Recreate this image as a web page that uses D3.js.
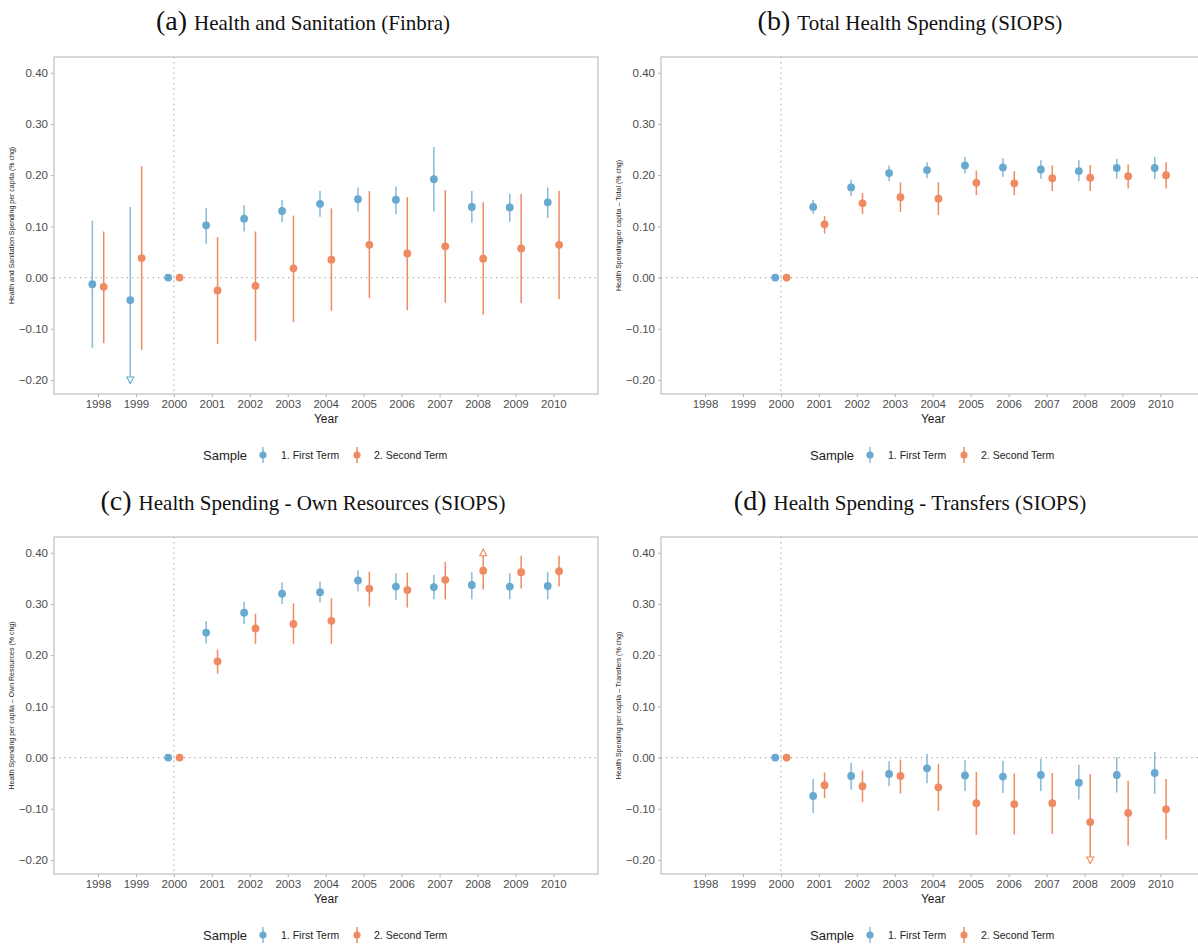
<!DOCTYPE html>
<html>
<head>
<meta charset="utf-8">
<script src="https://cdn.jsdelivr.net/npm/d3@7"></script>
<style>
  body { margin: 0; background: #fff; }
  svg text { font-family: "Liberation Sans", Arial, sans-serif; }
</style>
</head>
<body>
<div id="chart"></div>
<script>
// years and estimates (null = not estimated)
const years = [1998, 1999, 2000, 2001, 2002, 2003, 2004, 2005, 2006, 2007, 2008, 2009, 2010];
const yTicks = [-0.2, -0.1, 0, 0.1, 0.2, 0.3, 0.4];
const clipLo = -0.2, clipHi = 0.4;   // CIs beyond these get an arrow

// (a) Health and Sanitation (Finbra)
const aFirst   = [-0.013, -0.044, 0, 0.102, 0.115, 0.130, 0.144, 0.153, 0.152, 0.192, 0.138, 0.137, 0.147];
const aFirstLo = [-0.137, -0.260, null, 0.066, 0.090, 0.108, 0.119, 0.129, 0.124, 0.129, 0.107, 0.109, 0.116];
const aFirstHi = [0.111, 0.138, null, 0.136, 0.141, 0.152, 0.169, 0.176, 0.178, 0.255, 0.169, 0.163, 0.176];
const aSecond   = [-0.018, 0.038, 0, -0.025, -0.016, 0.018, 0.035, 0.064, 0.047, 0.061, 0.037, 0.057, 0.064];
const aSecondLo = [-0.128, -0.141, null, -0.130, -0.124, -0.087, -0.065, -0.040, -0.064, -0.049, -0.072, -0.050, -0.042];
const aSecondHi = [0.090, 0.217, null, 0.079, 0.090, 0.121, 0.135, 0.169, 0.157, 0.171, 0.147, 0.163, 0.169];

// (b) Total Health Spending (SIOPS)
const bFirst   = [null, null, 0, 0.138, 0.176, 0.204, 0.210, 0.219, 0.215, 0.211, 0.208, 0.214, 0.214];
const bFirstLo = [null, null, null, 0.124, 0.160, 0.188, 0.194, 0.203, 0.197, 0.193, 0.188, 0.193, 0.192];
const bFirstHi = [null, null, null, 0.152, 0.191, 0.219, 0.225, 0.236, 0.233, 0.229, 0.229, 0.232, 0.236];
const bSecond   = [null, null, 0, 0.104, 0.145, 0.157, 0.154, 0.185, 0.184, 0.194, 0.195, 0.198, 0.200];
const bSecondLo = [null, null, null, 0.086, 0.124, 0.128, 0.122, 0.161, 0.161, 0.169, 0.169, 0.174, 0.174];
const bSecondHi = [null, null, null, 0.120, 0.165, 0.186, 0.186, 0.209, 0.208, 0.219, 0.220, 0.221, 0.225];

// (c) Health Spending - Own Resources (SIOPS)
const cFirst   = [null, null, 0, 0.244, 0.283, 0.320, 0.323, 0.346, 0.334, 0.333, 0.337, 0.334, 0.335];
const cFirstLo = [null, null, null, 0.223, 0.261, 0.300, 0.303, 0.325, 0.308, 0.309, 0.309, 0.309, 0.309];
const cFirstHi = [null, null, null, 0.266, 0.304, 0.342, 0.344, 0.366, 0.360, 0.357, 0.362, 0.360, 0.362];
const cSecond   = [null, null, 0, 0.188, 0.252, 0.261, 0.267, 0.330, 0.327, 0.347, 0.365, 0.362, 0.364];
const cSecondLo = [null, null, null, 0.164, 0.222, 0.222, 0.222, 0.295, 0.293, 0.309, 0.328, 0.330, 0.334];
const cSecondHi = [null, null, null, 0.211, 0.281, 0.301, 0.311, 0.363, 0.361, 0.382, 0.440, 0.394, 0.394];

// (d) Health Spending - Transfers (SIOPS)
const dFirst   = [null, null, 0, -0.075, -0.036, -0.032, -0.021, -0.035, -0.037, -0.034, -0.049, -0.034, -0.030];
const dFirstLo = [null, null, null, -0.108, -0.063, -0.056, -0.050, -0.065, -0.069, -0.065, -0.082, -0.068, -0.071];
const dFirstHi = [null, null, null, -0.042, -0.010, -0.007, 0.007, -0.005, -0.006, -0.003, -0.014, 0.001, 0.011];
const dSecond   = [null, null, 0, -0.054, -0.056, -0.036, -0.058, -0.089, -0.091, -0.089, -0.126, -0.108, -0.101];
const dSecondLo = [null, null, null, -0.079, -0.087, -0.070, -0.104, -0.151, -0.150, -0.149, -0.230, -0.172, -0.160];
const dSecondHi = [null, null, null, -0.029, -0.025, -0.004, -0.012, -0.028, -0.031, -0.030, -0.032, -0.045, -0.042];

const seriesNames = ["1. First Term", "2. Second Term"];
const colors = ["#67a9cf", "#ef8a62"];

const panels = [
  {letter: "(a)", title: "Health and Sanitation (Finbra)",
   ylab: "Health and Sanitation Spending per capita (% chg)",
   series: [[aFirst, aFirstLo, aFirstHi], [aSecond, aSecondLo, aSecondHi]]},
  {letter: "(b)", title: "Total Health Spending (SIOPS)",
   ylab: "Health Spendingper capita – Total (% chg)",
   series: [[bFirst, bFirstLo, bFirstHi], [bSecond, bSecondLo, bSecondHi]]},
  {letter: "(c)", title: "Health Spending - Own Resources (SIOPS)",
   ylab: "Health Spending per capita – Own Resources (% chg)",
   series: [[cFirst, cFirstLo, cFirstHi], [cSecond, cSecondLo, cSecondHi]]},
  {letter: "(d)", title: "Health Spending - Transfers (SIOPS)",
   ylab: "Health Spending per capita – Transfers (% chg)",
   series: [[dFirst, dFirstLo, dFirstHi], [dSecond, dSecondLo, dSecondHi]]}
];

const W = 1198, H = 944,
      cellW = 607, cellH = 480,
      plotL = 54, plotT = 57, plotW = 544, plotH = 337,
      dodge = 0.15;

const svg = d3.select("#chart").append("svg")
    .attr("width", W).attr("height", H);

const x = d3.scaleLinear().domain([1996.84, 2011.175]).range([0, plotW]);
const y = d3.scaleLinear().domain([-0.2273, 0.4307]).range([plotH, 0]);
const fmt = d3.format(".2f");

panels.forEach((p, i) => {
  const cell = svg.append("g")
      .attr("transform", `translate(${(i % 2) * cellW},${Math.floor(i / 2) * cellH})`);

  // title
  const t = cell.append("text")
      .attr("x", 303).attr("y", 30)
      .attr("text-anchor", "middle")
      .style("font-family", "'Liberation Serif', 'Times New Roman', serif")
      .style("fill", "#111");
  t.append("tspan").style("font-size", "28px").text(p.letter + " ");
  t.append("tspan").style("font-size", "21px").text(p.title);

  const g = cell.append("g").attr("transform", `translate(${plotL},${plotT})`);

  // reference lines
  g.append("line")
      .attr("x1", 0).attr("x2", plotW).attr("y1", y(0)).attr("y2", y(0))
      .attr("stroke", "#a6a6a6").attr("stroke-width", 1.2).attr("stroke-dasharray", "1.2,4");
  g.append("line")
      .attr("x1", x(2000)).attr("x2", x(2000)).attr("y1", 0).attr("y2", plotH)
      .attr("stroke", "#a6a6a6").attr("stroke-width", 1.2).attr("stroke-dasharray", "1.2,4");

  // frame
  g.append("rect")
      .attr("width", plotW).attr("height", plotH)
      .attr("fill", "none").attr("stroke", "#b3b3b3").attr("stroke-width", 1);

  // axes
  const yAxis = g.append("g")
      .call(d3.axisLeft(y).tickValues(yTicks).tickFormat(fmt).tickSize(3).tickPadding(3));
  const xAxis = g.append("g").attr("transform", `translate(0,${plotH})`)
      .call(d3.axisBottom(x).tickValues(years).tickFormat(d3.format("d")).tickSize(3).tickPadding(3));
  [yAxis, xAxis].forEach(a => {
    a.select(".domain").remove();
    a.selectAll(".tick line").attr("stroke", "#b3b3b3");
    a.selectAll(".tick text").style("font-size", "11.5px").style("fill", "#4d4d4d")
        .style("font-family", "'Liberation Sans', Arial, sans-serif");
  });

  g.append("text")
      .attr("x", plotW / 2).attr("y", plotH + 29)
      .attr("text-anchor", "middle")
      .style("font-size", "12px").style("fill", "#222")
      .text("Year");

  g.append("text")
      .attr("transform", `translate(${-40},${plotH / 2}) rotate(-90)`)
      .attr("text-anchor", "middle")
      .style("font-size", "7px").style("fill", "#222")
      .text(p.ylab);

  // point ranges
  p.series.forEach((s, k) => {
    const [est, lo, hi] = s;
    const off = k === 0 ? -dodge : dodge;
    const col = colors[k];
    const rows = years.map((yr, j) => ({yr, v: est[j], lo: lo[j], hi: hi[j]}))
        .filter(d => d.v !== null);
    const sg = g.append("g");

    rows.filter(d => d.lo !== null).forEach(d => {
      const lo2 = Math.max(d.lo, clipLo), hi2 = Math.min(d.hi, clipHi);
      const cx = x(d.yr + off);
      sg.append("line")
          .attr("x1", cx).attr("x2", cx)
          .attr("y1", y(lo2)).attr("y2", y(hi2))
          .attr("stroke", col).attr("stroke-width", 1.5)
          .attr("stroke-opacity", k === 0 ? 0.8 : 1);
      if (d.lo < clipLo) {
        const yy = y(clipLo);
        sg.append("path")
            .attr("d", `M${cx - 3.5},${yy - 3}L${cx + 3.5},${yy - 3}L${cx},${yy + 3.5}Z`)
            .attr("fill", "#fff").attr("stroke", col).attr("stroke-width", 1.1);
      }
      if (d.hi > clipHi) {
        const yy = y(clipHi);
        sg.append("path")
            .attr("d", `M${cx - 3.5},${yy + 3}L${cx + 3.5},${yy + 3}L${cx},${yy - 3.5}Z`)
            .attr("fill", "#fff").attr("stroke", col).attr("stroke-width", 1.1);
      }
    });

    sg.selectAll("circle")
        .data(rows)
        .join("circle")
        .attr("cx", d => x(d.yr + off))
        .attr("cy", d => y(d.v))
        .attr("r", 3.9)
        .attr("fill", col);
  });

  // legend
  const lg = cell.append("g").attr("transform", "translate(0,455)");
  lg.append("text")
      .attr("x", 203).attr("y", 0).attr("dy", "0.35em")
      .style("font-size", "13px").style("fill", "#222")
      .text("Sample");
  const keyX = [263, 357], labX = [281, 374];
  seriesNames.forEach((name, k) => {
    lg.append("line")
        .attr("x1", keyX[k]).attr("x2", keyX[k]).attr("y1", -8).attr("y2", 8)
        .attr("stroke", colors[k]).attr("stroke-width", 1.5)
        .attr("stroke-opacity", k === 0 ? 0.8 : 1);
    lg.append("circle")
        .attr("cx", keyX[k]).attr("cy", 0).attr("r", 3.6)
        .attr("fill", colors[k]);
    lg.append("text")
        .attr("x", labX[k]).attr("y", 0).attr("dy", "0.35em")
        .style("font-size", "10.5px").style("fill", "#222")
        .text(name);
  });
});
</script>
</body>
</html>
